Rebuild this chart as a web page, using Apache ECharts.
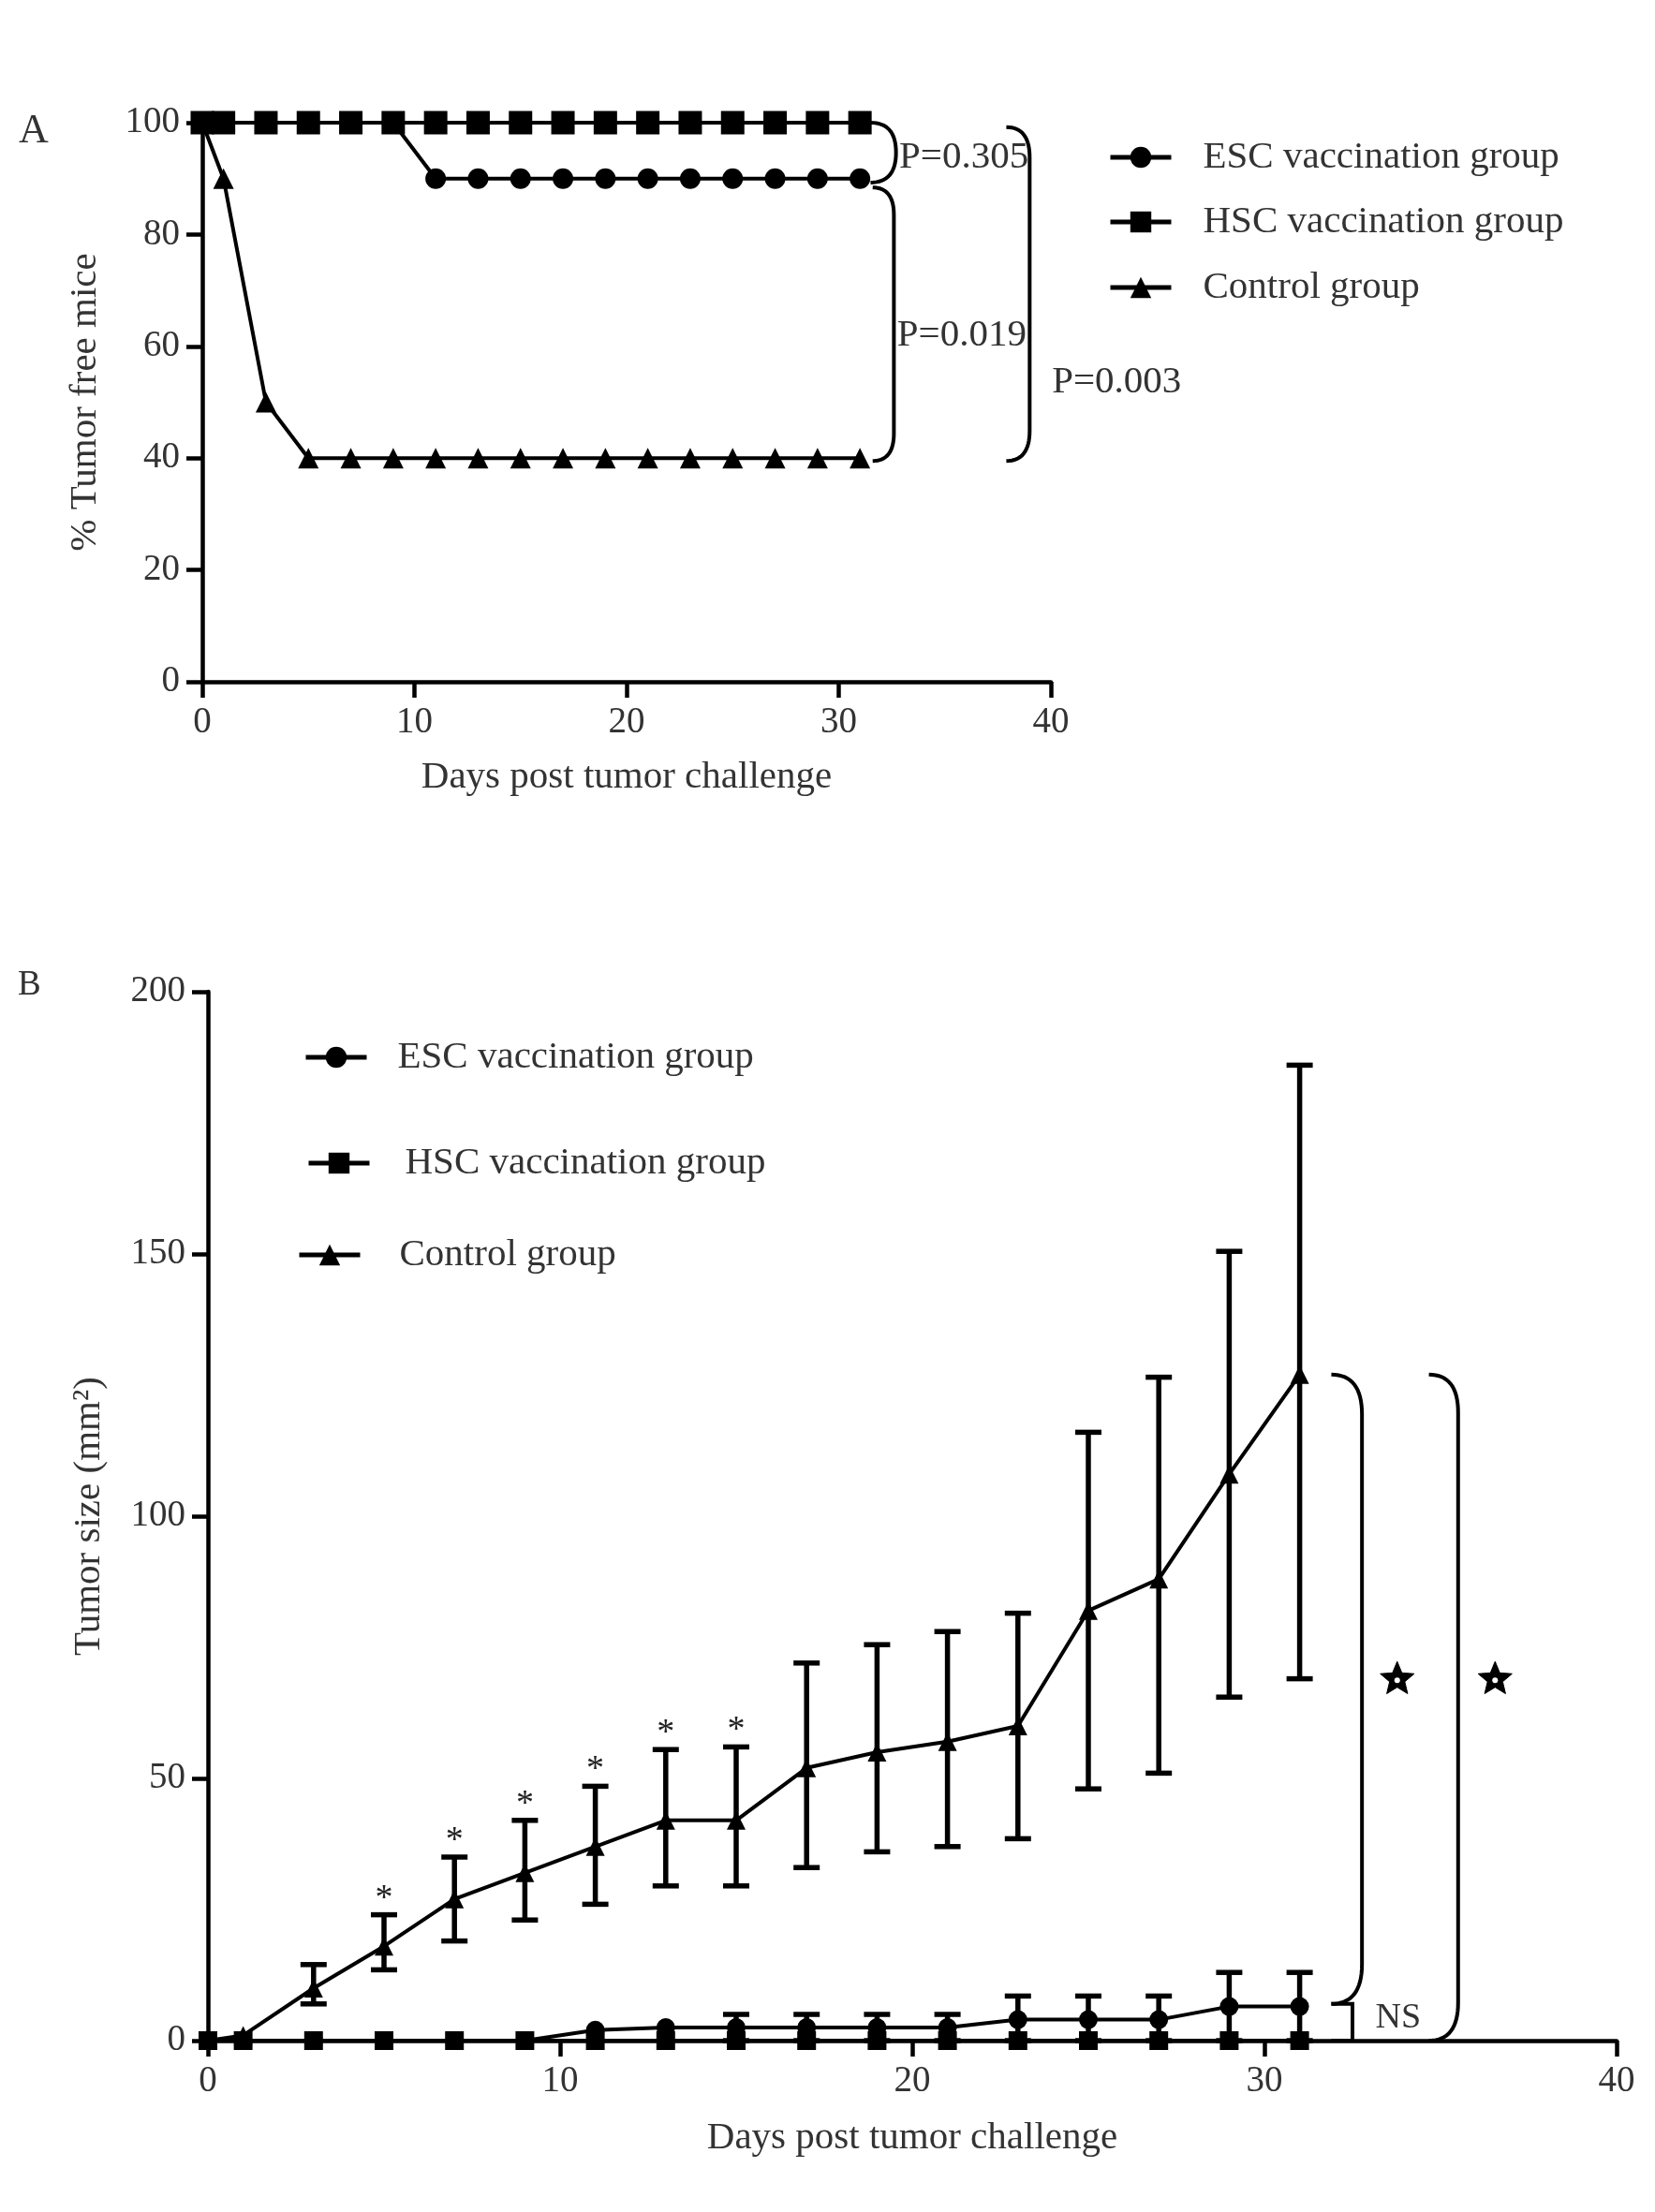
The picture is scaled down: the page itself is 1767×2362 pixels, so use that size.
<!DOCTYPE html>
<html><head><meta charset="utf-8">
<script src="https://cdn.jsdelivr.net/npm/echarts@6/dist/echarts.min.js"></script>
<style>html,body{margin:0;padding:0;background:#fff}#c{width:1767px;height:2362px}</style>
</head><body><div id="c"></div>
<script>
// ---------- data ----------
const days = [0,1,3,5,7,9,11,13,15,17,19,21,23,25,27,29,31];
const seriesNames = ['ESC vaccination group','HSC vaccination group','Control group'];

// Panel A: % tumor free mice
const escA  = [100,100,100,100,100,100,90,90,90,90,90,90,90,90,90,90,90];
const hscA  = [100,100,100,100,100,100,100,100,100,100,100,100,100,100,100,100,100];
const ctrlA = [100,90,50,40,40,40,40,40,40,40,40,40,40,40,40,40,40];

// Panel B: tumor size (mm2)
const escB   = [0,0,0,0,0,0,2,2.5,2.5,2.5,2.5,2.5,4,4,4,6.5,6.5];
const escHi  = [null,null,null,null,null,null,null,null,5,5,5,5,8.5,8.5,8.5,13,13];
const escLo  = [null,null,null,null,null,null,null,null,0,0,0,0,0,0,0,0,0];
const hscB   = [0,0,0,0,0,0,0,0,0,0,0,0,0,0,0,0,0];
const ctrlB  = [0,1,10,18,27,32,37,42,42,52,55,57,60,82,88,108,127];
const ctrlHi = [null,null,14.5,24,35,42,48.5,55.5,56,72,75.5,78,81.5,116,126.5,150.5,186];
const ctrlLo = [null,null,7,13.5,19,23,26,29.5,29.5,33,36,37,38.5,48,51,65.5,69];
const starDaysB = [5,7,9,11,13,15];

// axis ticks
const xTicks  = [0,10,20,30,40];
const yTicksA = [0,20,40,60,80,100];
const yTicksB = [0,50,100,150,200];

// annotations (data coordinates)
const bracketsA = [[31.5,32.7,100,89.3],[31.6,32.6,88.4,39.5],[37.9,39.0,99.2,39.5]];
const pLabelsA  = [['P=0.305',32.85,93.8],['P=0.019',32.75,62],['P=0.003',40.05,53.6]];
const bracketsB = [[31.9,32.77,127,7],[34.67,35.5,127,0]];
const nsBracketB = [[31.9,32.5,7,0]];
const nsLabelB  = [['NS',33.15,4.3]];
const starsB    = [[33.77,68.9],[36.55,68.9]];

// ---------- chart ----------
const F = 'Liberation Serif';
const TXT = '#333';
const chart = echarts.init(document.getElementById('c'), null, {renderer:'canvas'});

function xAxis(g, nameGap) {
  return {gridIndex:g, type:'value', min:xTicks[0], max:xTicks[xTicks.length-1], interval:xTicks[1]-xTicks[0],
    name:'Days post tumor challenge', nameLocation:'middle', nameGap:nameGap,
    nameTextStyle:{fontSize:41, fontFamily:F, color:TXT},
    axisLine:{show:true, onZero:false, lineStyle:{color:'#000', width:4.5}},
    axisTick:{show:true, length:17, lineStyle:{color:'#000', width:4.5}},
    axisLabel:{fontSize:39, fontFamily:F, color:TXT, margin:24},
    splitLine:{show:false}};
}
function yAxis(g, ticks, name, nameGap) {
  return {gridIndex:g, type:'value', min:ticks[0], max:ticks[ticks.length-1], interval:ticks[1]-ticks[0],
    name:name, nameLocation:'middle', nameGap:nameGap,
    nameTextStyle:{fontSize:41, fontFamily:F, color:TXT},
    axisLine:{show:true, onZero:false, lineStyle:{color:'#000', width:4.5}},
    axisTick:{show:true, length:17, lineStyle:{color:'#000', width:4.5}},
    axisLabel:{fontSize:39, fontFamily:F, color:TXT, margin:24},
    splitLine:{show:false}};
}
function lineSeries(name, vals, g, symbol, size, z) {
  return {type:'line', name:name, xAxisIndex:g, yAxisIndex:g, clip:false,
    data: days.map((d,i)=>[d, vals[i]]), symbol:symbol, symbolSize:size, showSymbol:true,
    lineStyle:{color:'#000', width:4}, itemStyle:{color:'#000'}, z:z,
    emphasis:{disabled:true}, animation:false};
}
function errSeries(g, lo, hi) {
  const data = [];
  days.forEach((d,i)=>{ if (hi[i] != null) data.push([d, lo[i], hi[i]]); });
  return {type:'custom', xAxisIndex:g, yAxisIndex:g, data:data, z:1, animation:false, silent:true,
    encode:{x:0, y:[1,2]},
    renderItem:function(params, api){
      const pl = api.coord([api.value(0), api.value(1)]);
      const ph = api.coord([api.value(0), api.value(2)]);
      const cw = 14, st = {stroke:'#000', lineWidth:5.5};
      return {type:'group', children:[
        {type:'line', shape:{x1:pl[0],y1:pl[1],x2:ph[0],y2:ph[1]}, style:st},
        {type:'line', shape:{x1:ph[0]-cw,y1:ph[1],x2:ph[0]+cw,y2:ph[1]}, style:st},
        {type:'line', shape:{x1:pl[0]-cw,y1:pl[1],x2:pl[0]+cw,y2:pl[1]}, style:st}
      ]};
    }};
}
function quad(p0, c, p1, n) {
  const pts = [];
  for (let k=0;k<=n;k++){ const t=k/n, u=1-t;
    pts.push([u*u*p0[0]+2*u*t*c[0]+t*t*p1[0], u*u*p0[1]+2*u*t*c[1]+t*t*p1[1]]); }
  return pts;
}
function bracketSeries(g, data, square) {
  return {type:'custom', xAxisIndex:g, yAxisIndex:g, data:data, z:3, animation:false, silent:true,
    renderItem:function(params, api){
      const x0 = api.value(0), x1 = api.value(1), yt = api.value(2), yb = api.value(3);
      const pt = api.coord([x0, yt]), pb = api.coord([x0, yb]);
      const xr = api.coord([x1, yt])[0];
      let pts;
      if (square) {
        pts = [pt, [xr, pt[1]], [xr, pb[1]], pb];
      } else {
        const w = xr - pt[0];
        const r = Math.min(w*1.3, (pb[1]-pt[1])/2);
        pts = quad(pt, [xr, pt[1]], [xr, pt[1]+r], 16)
          .concat(quad([xr, pb[1]-r], [xr, pb[1]], pb, 16));
      }
      return {type:'polyline', shape:{points:pts}, style:{stroke:'#000', lineWidth:4, fill:null}};
    }};
}
function textSeries(g, data, size, valign) {
  return {type:'custom', xAxisIndex:g, yAxisIndex:g, data:data.map(d=>[d[1], d[2], d[0]]), z:4, animation:false, silent:true,
    dimensions:['x','y','t'],
    renderItem:function(params, api){
      const p = api.coord([api.value(0), api.value(1)]);
      return {type:'text', style:{text:data[params.dataIndex][0], x:p[0], y:p[1], fill:TXT,
        fontSize:size, fontFamily:F, align:'left', verticalAlign:valign||'middle'}};
    }};
}
function asteriskSeries(g) {
  const data = [];
  days.forEach((d,i)=>{ if (starDaysB.indexOf(d) >= 0) data.push([d, ctrlHi[i]]); });
  return {type:'custom', xAxisIndex:g, yAxisIndex:g, data:data, z:4, animation:false, silent:true,
    renderItem:function(params, api){
      const p = api.coord([api.value(0), api.value(1)]);
      return {type:'text', style:{text:'*', x:p[0], y:p[1]-17, fill:'#222', fontSize:38, fontFamily:F,
        align:'center', verticalAlign:'middle'}};
    }};
}
function starSeries(g, data) {
  return {type:'custom', xAxisIndex:g, yAxisIndex:g, data:data, z:4, animation:false, silent:true,
    renderItem:function(params, api){
      const c = api.coord([api.value(0), api.value(1)]);
      const R = 19, r = 8.5, pts = [];
      for (let k=0;k<10;k++){ const a = -Math.PI/2 + k*Math.PI/5, rr = k%2===0?R:r;
        pts.push([c[0]+rr*Math.cos(a), c[1]+rr*Math.sin(a)]); }
      return {type:'group', children:[
        {type:'polygon', shape:{points:pts}, style:{fill:'#000', stroke:'#000', lineWidth:1}},
        {type:'circle', shape:{cx:c[0], cy:c[1]+1, r:3}, style:{fill:'#fff'}}
      ]};
    }};
}
function legendAt(name, left, cy, gap) {
  return {show:true, data:[name], orient:'vertical', left:left, top:cy-22, itemWidth:65, itemHeight:28,
    padding:0, selectedMode:false, inactiveColor:'#000',
    lineStyle:{color:'#000', width:5},
    itemStyle:{color:'#000'},
    textStyle:{fontSize:41, fontFamily:F, color:TXT, lineHeight:44, padding:[0,0,0,gap]}};
}

const option = {
  backgroundColor:'#fff',
  animation:false,
  grid:[
    {left:216, top:131, right:645, bottom:1634, containLabel:false},
    {left:222, top:1059, right:41, bottom:183, containLabel:false}
  ],
  xAxis:[xAxis(0, 82), xAxis(1, 84)],
  yAxis:[yAxis(0, yTicksA, '% Tumor free mice', 104), yAxis(1, yTicksB, 'Tumor size (mm²)', 106)],
  legend:[
    legendAt(seriesNames[0], 1183, 168, 29),
    legendAt(seriesNames[1], 1183, 237, 29),
    legendAt(seriesNames[2], 1183, 307, 29),
    legendAt(seriesNames[0], 324, 1129, 28),
    legendAt(seriesNames[1], 327, 1242, 33),
    legendAt(seriesNames[2], 317, 1340, 37)
  ],
  graphic:[
    {type:'text', left:20, top:118, style:{text:'A', fontSize:44, fontFamily:F, fill:TXT}},
    {type:'text', left:19, top:1034, style:{text:'B', fontSize:37, fontFamily:F, fill:TXT}}
  ],
  series:[
    lineSeries(seriesNames[0], escA, 0, 'circle', 22, 2),
    lineSeries(seriesNames[2], ctrlA, 0, 'triangle', 22, 2),
    lineSeries(seriesNames[1], hscA, 0, 'rect', 25, 3),
    bracketSeries(0, bracketsA, false),
    textSeries(0, pLabelsA, 41),

    errSeries(1, ctrlLo, ctrlHi),
    errSeries(1, escLo, escHi),
    lineSeries(seriesNames[0], escB, 1, 'circle', 20, 2),
    lineSeries(seriesNames[2], ctrlB, 1, 'triangle', 20, 2),
    lineSeries(seriesNames[1], hscB, 1, 'rect', 20, 3),
    asteriskSeries(1),
    bracketSeries(1, bracketsB, false),
    bracketSeries(1, nsBracketB, true),
    textSeries(1, nsLabelB, 38),
    starSeries(1, starsB)
  ]
};
chart.setOption(option);
</script></body></html>
